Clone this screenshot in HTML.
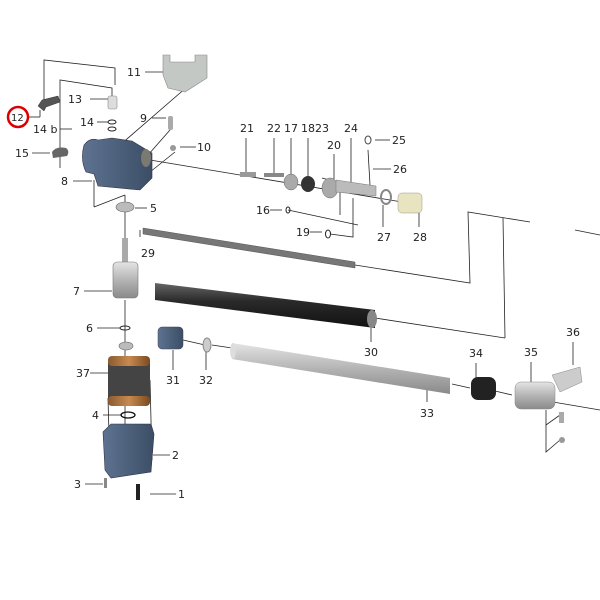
<!DOCTYPE html>
<html><head><meta charset="utf-8"><style>
html,body{margin:0;padding:0;background:#fff;}
svg{display:block;}
text{font-family:"DejaVu Sans","Liberation Sans",sans-serif;font-size:11px;fill:#222;}
</style></head><body>
<svg width="600" height="600" viewBox="0 0 600 600" xmlns="http://www.w3.org/2000/svg">
<defs>
<linearGradient id="blk" x1="0" y1="0" x2="0" y2="1"><stop offset="0" stop-color="#666"/><stop offset=".4" stop-color="#2a2a2a"/><stop offset="1" stop-color="#111"/></linearGradient>
<linearGradient id="gry" x1="0" y1="0" x2="0" y2="1"><stop offset="0" stop-color="#e4e4e4"/><stop offset=".5" stop-color="#b4b4b4"/><stop offset="1" stop-color="#8a8a8a"/></linearGradient>
<linearGradient id="blu" x1="0" y1="0" x2="1" y2="0"><stop offset="0" stop-color="#5d7391"/><stop offset="1" stop-color="#3c4e66"/></linearGradient>
<linearGradient id="cu" x1="0" y1="0" x2="1" y2="0"><stop offset="0" stop-color="#8a5a30"/><stop offset=".5" stop-color="#c88a50"/><stop offset="1" stop-color="#7a4a20"/></linearGradient>
</defs>
<g stroke="#222" stroke-width="0.8" fill="none">
<polyline points="44,110 44,60 115,68 115,85"/>
<polyline points="60,168 60,80 112,88 112,96"/>
<line x1="72" y1="129" x2="60" y2="129"/>
<line x1="94" y1="180" x2="94" y2="207"/><line x1="94" y1="207" x2="125" y2="195"/>
<line x1="120" y1="145" x2="195" y2="80"/>
<line x1="148" y1="155" x2="170" y2="130"/>
<line x1="150" y1="172" x2="175" y2="152"/>
<line x1="125" y1="195" x2="125" y2="262"/>
<line x1="125" y1="300" x2="125" y2="430"/>
<line x1="150" y1="160" x2="420" y2="205"/>
<polyline points="322,178 340,183 340,215"/>
<line x1="322" y1="190" x2="340" y2="190"/>
<polyline points="288,210 358,225"/>
<polyline points="330,234 353,237 353,198"/>
<line x1="368" y1="150" x2="370" y2="185"/>
<polyline points="140,230 140,237"/>
<polyline points="355,265 470,283 468,212 530,222"/>
<line x1="503" y1="218" x2="505" y2="338"/>
<polyline points="375,318 505,338"/>
<line x1="575" y1="230" x2="600" y2="235"/>
<line x1="183" y1="340" x2="205" y2="345"/>
<line x1="212" y1="345" x2="232" y2="348"/>
<line x1="452" y1="384" x2="470" y2="388"/>
<line x1="495" y1="391" x2="512" y2="395"/>
<line x1="553" y1="402" x2="600" y2="410"/>
<polyline points="546,410 546,425 560,415"/><polyline points="546,425 546,452 560,440"/>
<line x1="108" y1="398" x2="110" y2="470"/>
<line x1="150" y1="380" x2="152" y2="460"/>
<line x1="580" y1="372" x2="560" y2="385"/>
<line x1="145" y1="72" x2="163" y2="72"/><line x1="90" y1="99" x2="108" y2="99"/>
<line x1="28" y1="117" x2="40" y2="117"/><line x1="40" y1="117" x2="40" y2="110"/>
<line x1="97" y1="122" x2="108" y2="122"/><line x1="32" y1="153" x2="50" y2="153"/>
<line x1="73" y1="181" x2="92" y2="181"/><line x1="152" y1="118" x2="166" y2="118"/>
<line x1="196" y1="147" x2="180" y2="147"/><line x1="147" y1="208" x2="135" y2="208"/>
<line x1="84" y1="291" x2="112" y2="291"/><line x1="97" y1="328" x2="120" y2="328"/>
<line x1="90" y1="373" x2="108" y2="373"/><line x1="103" y1="415" x2="122" y2="415"/>
<line x1="170" y1="455" x2="153" y2="455"/><line x1="85" y1="484" x2="103" y2="484"/>
<line x1="176" y1="494" x2="150" y2="494"/>
<line x1="173" y1="370" x2="173" y2="350"/><line x1="206" y1="370" x2="206" y2="352"/>
<line x1="371" y1="342" x2="371" y2="322"/><line x1="427" y1="402" x2="427" y2="388"/>
<line x1="476" y1="363" x2="476" y2="378"/><line x1="531" y1="362" x2="531" y2="383"/>
<line x1="573" y1="342" x2="573" y2="365"/>
<line x1="246" y1="138" x2="246" y2="172"/><line x1="274" y1="138" x2="274" y2="174"/>
<line x1="291" y1="138" x2="291" y2="175"/><line x1="308" y1="138" x2="308" y2="178"/>
<line x1="334" y1="154" x2="334" y2="180"/><line x1="351" y1="138" x2="351" y2="185"/>
<line x1="390" y1="140" x2="375" y2="140"/><line x1="391" y1="169" x2="373" y2="169"/>
<line x1="270" y1="210" x2="282" y2="210"/><line x1="310" y1="232" x2="322" y2="232"/>
<line x1="383" y1="227" x2="383" y2="205"/><line x1="419" y1="227" x2="419" y2="205"/>
</g>
<polygon points="163,55 170,55 170,62 195,62 195,55 207,55 207,78 185,92 168,88 163,75" fill="#c4c8c4" stroke="#888" stroke-width=".6"/>
<path d="M38,106 l4,-6 l16,-4 l2,6 l-14,5 l-2,4z" fill="#555" stroke="#333" stroke-width=".5"/>
<rect x="108" y="96" width="9" height="13" rx="2" fill="#ddd" stroke="#888" stroke-width=".6"/>
<ellipse cx="112" cy="122" rx="4" ry="2" fill="none" stroke="#222"/><ellipse cx="112" cy="129" rx="4" ry="2" fill="none" stroke="#222"/>
<path d="M52,152 q4,-6 14,-4 q4,3 1,8 l-14,2z" fill="#666"/>
<path d="M84,145 q6,-8 14,-5 l14,-2 l20,3 l20,12 l0,25 l-12,12 l-42,-4 l-4,-12 l-8,-2 q-6,-12 -2,-27z" fill="url(#blu)" stroke="#334" stroke-width=".6"/>
<ellipse cx="146" cy="158" rx="5" ry="9" fill="#7a7a70"/>
<rect x="168" y="116" width="5" height="14" rx="2" fill="#aaa"/>
<circle cx="173" cy="148" r="3" fill="#999"/>
<ellipse cx="125" cy="207" rx="9" ry="5" fill="#bbb" stroke="#666" stroke-width=".6"/>
<polygon points="143,228 355,262 355,268 143,234" fill="#777" stroke="#555" stroke-width=".5"/>
<rect x="122" y="238" width="6" height="24" fill="#aaa"/>
<rect x="113" y="262" width="25" height="36" rx="4" fill="url(#gry)" stroke="#777" stroke-width=".6"/>
<ellipse cx="125" cy="328" rx="5" ry="2" fill="none" stroke="#222"/>
<ellipse cx="126" cy="346" rx="7" ry="4" fill="#bbb" stroke="#666" stroke-width=".6"/>
<rect x="108" y="358" width="42" height="48" rx="5" fill="#444"/>
<rect x="108" y="356" width="42" height="10" rx="4" fill="url(#cu)"/>
<rect x="108" y="396" width="42" height="10" rx="4" fill="url(#cu)"/>
<ellipse cx="128" cy="415" rx="7" ry="3" fill="none" stroke="#111" stroke-width="1.3"/>
<path d="M103,432 l8,-8 l40,0 l3,10 l-3,38 l-40,6 l-6,-8z" fill="url(#blu)" stroke="#334" stroke-width=".6"/>
<rect x="104" y="478" width="3" height="10" fill="#888"/><rect x="136" y="484" width="4" height="16" fill="#222"/>
<polygon points="155,283 375,310 375,328 155,300" fill="url(#blk)"/>
<ellipse cx="372" cy="319" rx="5" ry="9" fill="#888"/>
<rect x="158" y="327" width="25" height="22" rx="4" fill="url(#blu)" stroke="#445" stroke-width=".5"/>
<ellipse cx="207" cy="345" rx="4" ry="7" fill="#ccc" stroke="#888"/>
<polygon points="232,343 450,378 450,394 232,359" fill="url(#gry)"/>
<ellipse cx="233" cy="351" rx="3" ry="8" fill="#ddd"/>
<rect x="471" y="377" width="25" height="23" rx="7" fill="#222"/>
<rect x="515" y="382" width="40" height="27" rx="6" fill="url(#gry)" stroke="#888" stroke-width=".5"/>
<polygon points="552,375 580,367 582,382 560,392" fill="#ccc" stroke="#888" stroke-width=".5"/>
<rect x="559" y="412" width="5" height="11" fill="#aaa"/><circle cx="562" cy="440" r="3" fill="#999"/>
<rect x="240" y="172" width="16" height="5" fill="#999"/>
<rect x="264" y="173" width="20" height="4" fill="#888"/>
<ellipse cx="291" cy="182" rx="7" ry="8" fill="#aaa" stroke="#666" stroke-width=".5"/>
<ellipse cx="308" cy="184" rx="7" ry="8" fill="#333"/>
<ellipse cx="330" cy="188" rx="8" ry="10" fill="#aaa" stroke="#666" stroke-width=".5"/>
<polygon points="336,180 376,186 376,196 336,192" fill="#bbb" stroke="#777" stroke-width=".5"/>
<ellipse cx="386" cy="197" rx="5" ry="7" fill="none" stroke="#888" stroke-width="2"/>
<rect x="398" y="193" width="24" height="20" rx="4" fill="#e8e4c0" stroke="#998" stroke-width=".5"/>
<ellipse cx="368" cy="140" rx="3" ry="4" fill="none" stroke="#444"/>
<ellipse cx="288" cy="210" rx="2" ry="3" fill="none" stroke="#222"/><ellipse cx="328" cy="234" rx="2.5" ry="4" fill="none" stroke="#222"/>
<circle cx="18" cy="117" r="10" fill="none" stroke="#d00" stroke-width="2.5"/>
<g>
<text x="11" y="121" style="font-size:10px">12</text>
<text x="127" y="76">11</text><text x="68" y="103">13</text><text x="80" y="126">14</text>
<text x="33" y="133">14 b</text><text x="15" y="157">15</text><text x="61" y="185">8</text>
<text x="140" y="122">9</text><text x="197" y="151">10</text><text x="150" y="212">5</text>
<text x="141" y="257">29</text><text x="73" y="295">7</text><text x="86" y="332">6</text>
<text x="76" y="377">37</text><text x="92" y="419">4</text><text x="172" y="459">2</text>
<text x="74" y="488">3</text><text x="178" y="498">1</text>
<text x="166" y="384">31</text><text x="199" y="384">32</text><text x="364" y="356">30</text>
<text x="420" y="417">33</text><text x="469" y="357">34</text><text x="524" y="356">35</text><text x="566" y="336">36</text>
<text x="240" y="132">21</text><text x="267" y="132">22</text><text x="284" y="132">17</text>
<text x="301" y="132">18</text><text x="315" y="132">23</text><text x="344" y="132">24</text>
<text x="327" y="149">20</text><text x="392" y="144">25</text><text x="393" y="173">26</text>
<text x="256" y="214">16</text><text x="296" y="236">19</text><text x="377" y="241">27</text><text x="413" y="241">28</text>
</g>
</svg>
</body></html>
